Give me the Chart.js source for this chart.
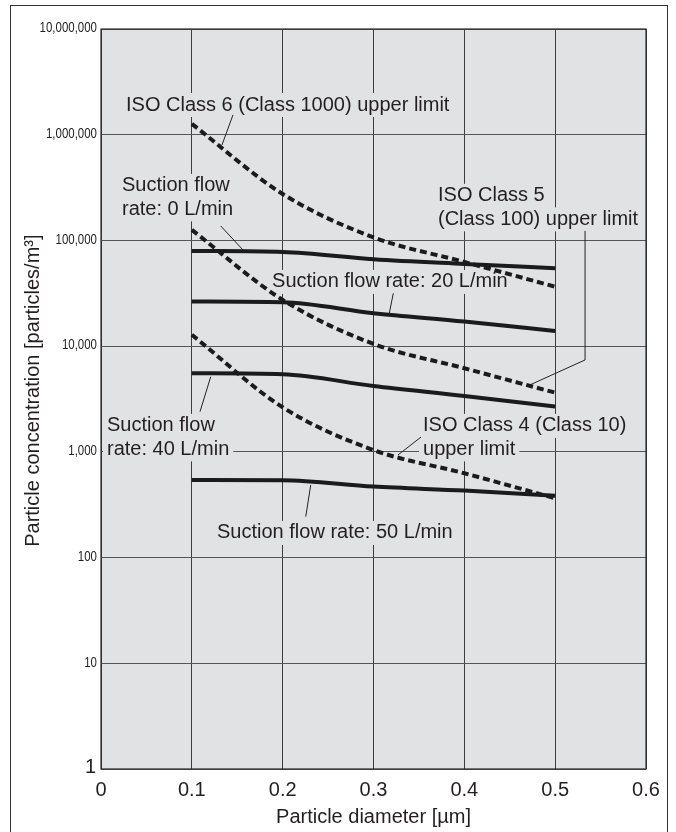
<!DOCTYPE html>
<html><head><meta charset="utf-8">
<script src="https://cdn.jsdelivr.net/npm/chart.js@4.4.1/dist/chart.umd.min.js"></script>
<style>
html,body{margin:0;padding:0;background:#fff;}
#wrap{position:relative;width:676px;height:832px;overflow:hidden;}
#frame{position:absolute;left:10px;top:5px;width:658px;height:900px;border:1.5px solid #333;box-sizing:border-box;}
canvas{position:absolute;left:0;top:0;}
</style></head><body>
<div id="wrap"><div id="frame"></div><canvas id="c" width="676" height="832"></canvas></div>
<script>
// ---- data ----
const diameters = [0.1, 0.2, 0.3, 0.4, 0.5];
const flow0  = [79600, 77800, 66400, 59900, 54600];
const flow20 = [26400, 26000, 20500, 17100, 13900];
const flow40 = [5540, 5420, 4200, 3380, 2680];
const flow50 = [542, 539, 469, 430, 385];
const isoClass6 = [1265000, 275000, 107000, 62600, 36500];
const isoClass5 = [125700, 27400, 10500, 6180, 3630];
const isoClass4 = [12800, 2640, 1040, 627, 364];
const xTicks = [0, 0.1, 0.2, 0.3, 0.4, 0.5, 0.6];
const yTicks = [1, 10, 100, 1000, 10000, 100000, 1000000, 10000000];

// annotation texts (anchor = left edge / first line centre, in data units)
const notes = [
  {lines:['ISO Class 6 (Class 1000) upper limit'], x:0.0275, y:1.91e6, leader:[[0.1453,1.54e6],[0.1332,8.0e5]]},
  {lines:['Suction flow','rate: 0 L/min'], x:0.0231, y:3.28e5, leader:[[0.1318,1.37e5],[0.1563,8.13e4]]},
  {lines:['ISO Class 5','(Class 100) upper limit'], x:0.371, y:2.64e5, leader:[[0.5329,1.23e5],[0.5329,7.4e3],[0.4723,4.3e3]]},
  {lines:['Suction flow rate: 20 L/min'], x:0.1883, y:4.05e4, leader:[[0.3218,3.16e4],[0.3174,2.05e4]]},
  {lines:['Suction flow','rate: 40 L/min'], x:0.0066, y:1.76e3, leader:[[0.109,2.40e3],[0.1208,5.14e3]]},
  {lines:['ISO Class 4 (Class 10)','upper limit'], x:0.3545, y:1.76e3, leader:[[0.3523,1.38e3],[0.327,935]]},
  {lines:['Suction flow rate: 50 L/min'], x:0.1277, y:171, leader:[[0.2254,244],[0.2309,486]]}
];

const BG = '#e1e2e4';
const INK = '#231f20';
const FONT = '"Liberation Sans", Arial, Helvetica, sans-serif';

function pts(arr){ return diameters.map((d,i)=>({x:d, y:arr[i]})); }
function solid(label, arr){ return {label, data:pts(arr), borderColor:'#1b1b1b', borderWidth:4, pointRadius:0, fill:false, cubicInterpolationMode:'monotone', borderCapStyle:'butt'}; }
function dashed(label, arr){ return {label, data:pts(arr), borderColor:'#1b1b1b', borderWidth:4, borderDash:[7,4], pointRadius:0, fill:false, cubicInterpolationMode:'monotone', borderCapStyle:'butt'}; }

const notesPlugin = {
  id:'notes',
  beforeDraw(chart){
    const {ctx, chartArea:a} = chart;
    ctx.save(); ctx.fillStyle = BG;
    ctx.fillRect(a.left, a.top, a.right-a.left, a.bottom-a.top);
    ctx.restore();
  },
  beforeDatasetsDraw(chart){
    const {ctx} = chart, xs = chart.scales.x, ys = chart.scales.y;
    const lh = 23.5;
    ctx.save();
    ctx.font = '20px ' + FONT;
    ctx.textBaseline = 'middle';
    ctx.textAlign = 'left';
    notes.forEach(n=>{
      const x0 = xs.getPixelForValue(n.x), y0 = ys.getPixelForValue(n.y);
      n.lines.forEach((t,i)=>{
        const w = ctx.measureText(t).width;
        const cy = y0 + i*lh;
        ctx.fillStyle = BG;
        ctx.fillRect(x0-4, cy-12, w+8, 24);
      });
      ctx.fillStyle = INK;
      n.lines.forEach((t,i)=> ctx.fillText(t, x0, y0 + i*lh));
      ctx.strokeStyle = '#222'; ctx.lineWidth = 1;
      ctx.beginPath();
      n.leader.forEach((p,i)=>{
        const px = xs.getPixelForValue(p[0]), py = ys.getPixelForValue(p[1]);
        if(i===0) ctx.moveTo(px,py); else ctx.lineTo(px,py);
      });
      ctx.stroke();
    });
    ctx.restore();
  },
  afterDatasetsDraw(chart){
    const {ctx, chartArea:a} = chart;
    ctx.save(); ctx.strokeStyle = '#2a2a2a'; ctx.lineWidth = 1.2;
    ctx.strokeRect(a.left, a.top, a.right-a.left, a.bottom-a.top);
    ctx.restore();
  },
  afterDraw(chart){
    // y tick labels: condensed face (narrow font emulated by horizontal scaling)
    const {ctx} = chart, ys = chart.scales.y;
    const right = chart.chartArea.left - 4;
    ctx.save();
    ctx.fillStyle = INK;
    ctx.textBaseline = 'middle';
    ctx.textAlign = 'right';
    yTicks.forEach(v=>{
      const y = ys.getPixelForValue(v);
      const label = v.toLocaleString('en-US');
      if (v === 1) {
        ctx.font = '20px ' + FONT;
        ctx.fillText(label, right - 1, y - 2);
      } else {
        ctx.save();
        ctx.translate(right, y - 1);
        ctx.scale(0.74, 1);
        ctx.font = '15.5px ' + FONT;
        ctx.fillText(label, 0, 0);
        ctx.restore();
      }
    });
    ctx.restore();
  }
};

new Chart(document.getElementById('c'), {
  type:'line',
  data:{datasets:[
    dashed('ISO Class 6', isoClass6),
    dashed('ISO Class 5', isoClass5),
    dashed('ISO Class 4', isoClass4),
    solid('0 L/min', flow0),
    solid('20 L/min', flow20),
    solid('40 L/min', flow40),
    solid('50 L/min', flow50)
  ]},
  options:{
    responsive:false, animation:false, devicePixelRatio:1,
    layout:{padding:{left:0, right:30, top:29, bottom:0}},
    plugins:{legend:{display:false}, tooltip:{enabled:false}},
    scales:{
      x:{type:'linear', min:0, max:0.6,
        afterBuildTicks(s){ s.ticks = xTicks.map(v=>({value:v})); },
        afterFit(s){ s.height = 63; },
        grid:{color:'#3c3c3c', lineWidth:1, drawTicks:false},
        border:{display:false},
        ticks:{padding:9, color:INK, font:{family:FONT, size:20},
          callback:(v)=> v===0 ? '0' : Number(v).toFixed(1)},
        title:{display:true, text:'Particle diameter [µm]', color:INK, font:{family:FONT, size:20}, padding:{top:0, bottom:3}}
      },
      y:{type:'logarithmic', min:1, max:10000000,
        afterBuildTicks(s){ s.ticks = yTicks.map(v=>({value:v})); },
        afterFit(s){ s.width = 101; },
        grid:{color:'#555', lineWidth:1, drawTicks:false},
        border:{display:false},
        ticks:{display:false},
        title:{display:true, text:'\u00a0\u00a0\u00a0Particle concentration [particles/m³]', color:INK, font:{family:FONT, size:20}, padding:{top:21, bottom:0}}
      }
    }
  },
  plugins:[notesPlugin]
});
</script>
</body></html>
